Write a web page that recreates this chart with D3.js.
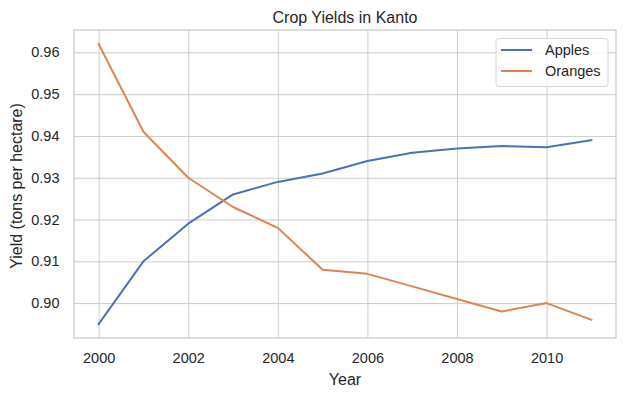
<!DOCTYPE html>
<html>
<head>
<meta charset="utf-8">
<script src="https://cdn.jsdelivr.net/npm/d3@7"></script>
<style>
  body { margin: 0; background: #fff; }
  svg { font-family: "Liberation Sans", Arial, sans-serif; }
  .tick text { fill: #262626; font-size: 14.5px; }
</style>
</head>
<body>
<svg width="626" height="396"></svg>
<script>
const years = [2000, 2001, 2002, 2003, 2004, 2005, 2006, 2007, 2008, 2009, 2010, 2011];
const apples = [0.895, 0.910, 0.919, 0.926, 0.929, 0.931, 0.934, 0.936, 0.937, 0.9376, 0.9373, 0.939];
const oranges = [0.962, 0.941, 0.930, 0.923, 0.918, 0.908, 0.907, 0.904, 0.901, 0.898, 0.900, 0.896];
const xTicks = [2000, 2002, 2004, 2006, 2008, 2010];
const yTicks = [0.90, 0.91, 0.92, 0.93, 0.94, 0.95, 0.96];

const series = [
  { name: "Apples", values: apples, color: "#4c72b0" },
  { name: "Oranges", values: oranges, color: "#dd8452" }
];

const svg = d3.select("svg");
const margin = { left: 74, top: 30, right: 10, bottom: 58 };
const w = 626 - margin.left - margin.right;
const h = 396 - margin.top - margin.bottom;

// matplotlib style 5% padding on both axes
const xPad = (d3.max(years) - d3.min(years)) * 0.05;
const allY = apples.concat(oranges);
const yPad = (d3.max(allY) - d3.min(allY)) * 0.05;

const x = d3.scaleLinear()
  .domain([d3.min(years) - xPad, d3.max(years) + xPad])
  .range([0, w]);
const y = d3.scaleLinear()
  .domain([d3.min(allY) - yPad, d3.max(allY) + yPad])
  .range([h, 0]);

const g = svg.append("g").attr("transform", `translate(${margin.left},${margin.top})`);

// grid lines via axes
const xAxis = g.append("g")
  .attr("transform", `translate(0,${h})`)
  .call(d3.axisBottom(x).tickValues(xTicks).tickFormat(d3.format("d")).tickSize(-h).tickPadding(14.5));
const yAxis = g.append("g")
  .call(d3.axisLeft(y).tickValues(yTicks).tickFormat(d3.format(".2f")).tickSize(-w).tickPadding(14.5));

[xAxis, yAxis].forEach(a => {
  a.select(".domain").remove();
  a.selectAll(".tick line").attr("stroke", "#cccccc").attr("stroke-width", 1);
});

// frame
g.append("rect")
  .attr("width", w).attr("height", h)
  .attr("fill", "none").attr("stroke", "#cccccc").attr("stroke-width", 1.25);

const line = d3.line()
  .x((d, i) => x(years[i]))
  .y(d => y(d));

g.selectAll("path.series")
  .data(series)
  .enter()
  .append("path")
  .attr("class", "series")
  .attr("d", d => line(d.values))
  .attr("fill", "none")
  .attr("stroke", d => d.color)
  .attr("stroke-width", 2)
  .attr("stroke-linejoin", "round")
  .attr("stroke-linecap", "square");

// title + labels
svg.append("text")
  .attr("x", margin.left + w / 2).attr("y", 22.5)
  .attr("text-anchor", "middle")
  .attr("fill", "#262626").style("font-size", "16px")
  .text("Crop Yields in Kanto");

svg.append("text")
  .attr("x", margin.left + w / 2).attr("y", 385)
  .attr("text-anchor", "middle")
  .attr("fill", "#262626").style("font-size", "16px")
  .text("Year");

svg.append("text")
  .attr("transform", `translate(22,186) rotate(-90)`)
  .attr("text-anchor", "middle")
  .attr("fill", "#262626").style("font-size", "16px")
  .text("Yield (tons per hectare)");

// legend
const legend = svg.append("g").attr("transform", "translate(496,38.5)");
legend.append("rect")
  .attr("width", 112).attr("height", 48).attr("rx", 3)
  .attr("fill", "#fff").attr("fill-opacity", 0.8)
  .attr("stroke", "#d6d6d6");

const items = legend.selectAll("g.item")
  .data(series)
  .enter()
  .append("g")
  .attr("class", "item")
  .attr("transform", (d, i) => `translate(0,${11.5 + i * 21})`);

items.append("line")
  .attr("x1", 5).attr("x2", 36)
  .attr("stroke", d => d.color).attr("stroke-width", 2);
items.append("text")
  .attr("x", 49).attr("y", 5)
  .attr("fill", "#262626").style("font-size", "14.5px")
  .text(d => d.name);
</script>
</body>
</html>
